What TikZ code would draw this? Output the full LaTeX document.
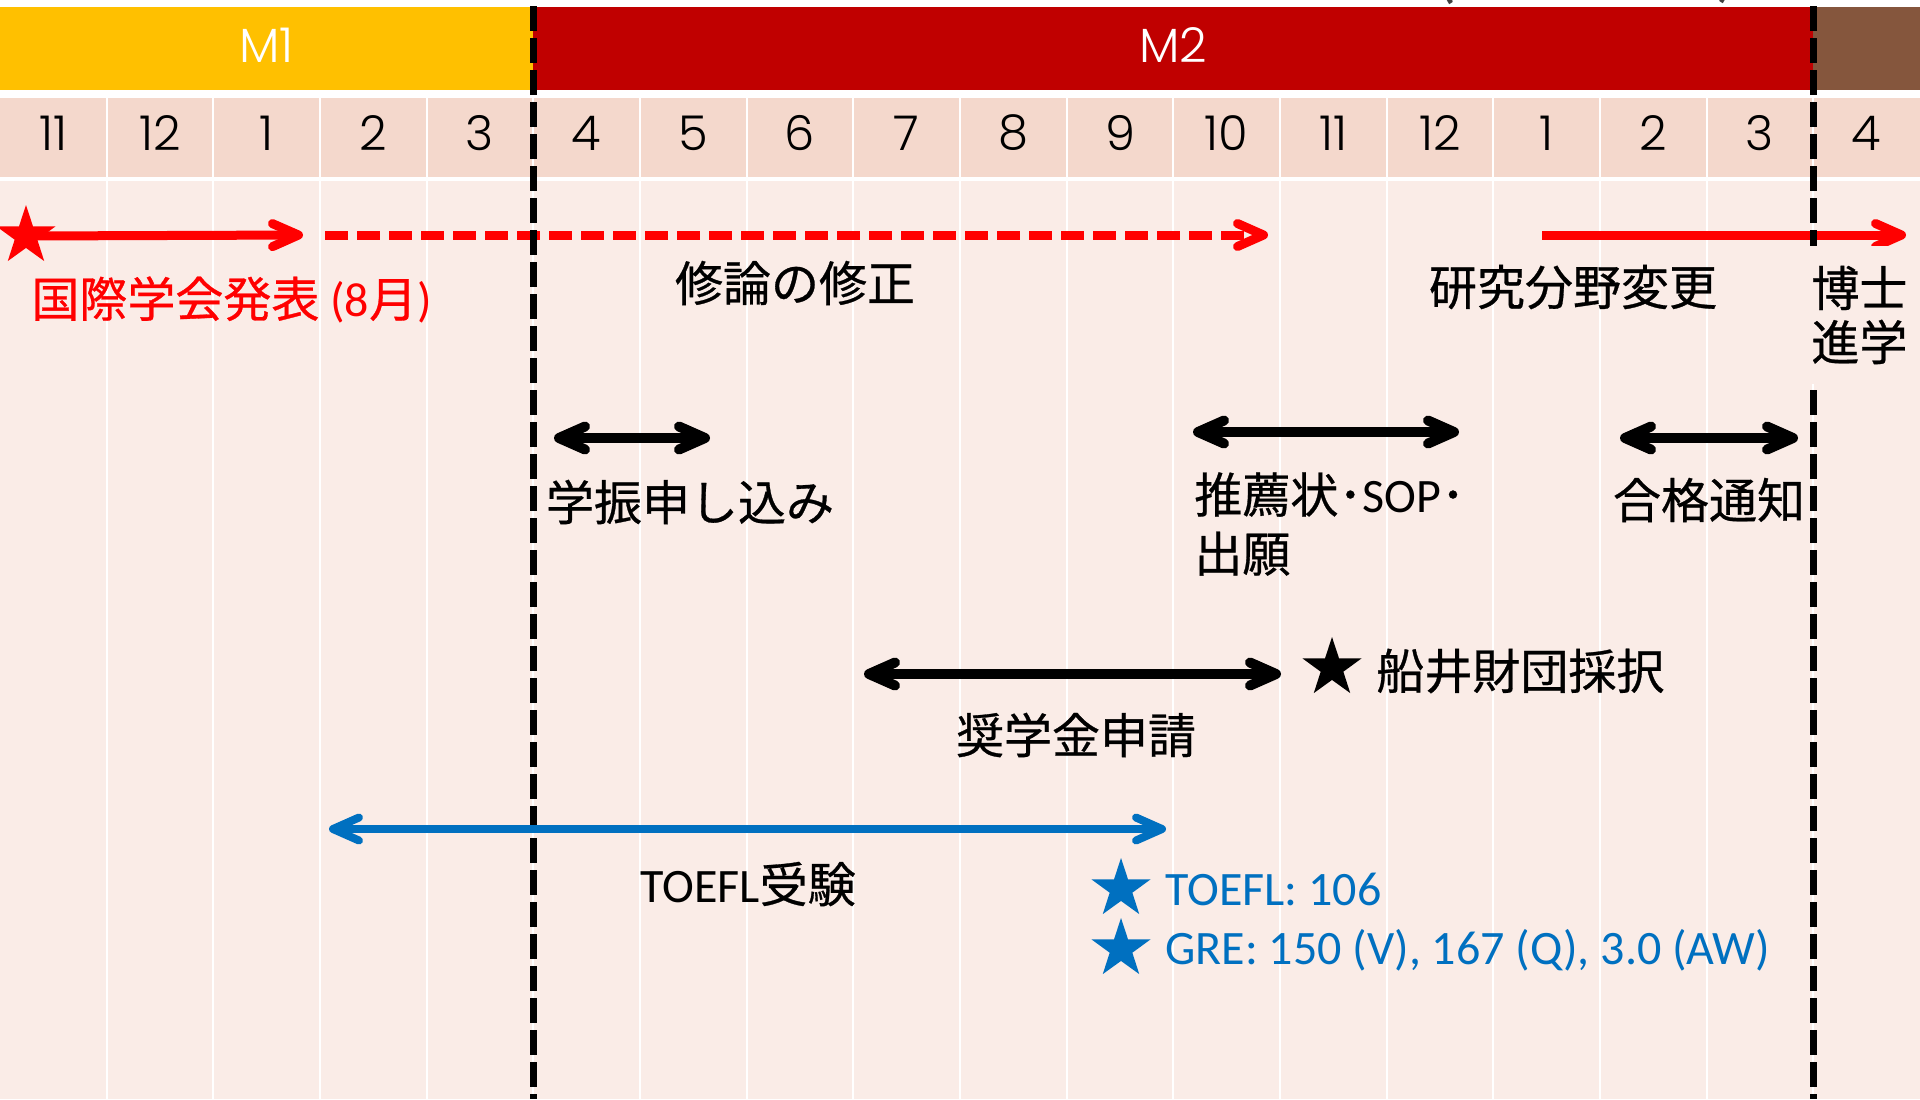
\documentclass[tikz,border=0pt]{standalone}
\usepackage{fontspec}
\setmainfont{Carlito}
\newfontfamily\jp[FakeBold=0.6]{Noto Sans CJK JP}
\newfontfamily\numf{Poppins Light}
\usetikzlibrary{arrows.meta,shapes.geometric}
\definecolor{mOne}{HTML}{FFC000}
\definecolor{mTwo}{HTML}{C00000}
\definecolor{mThree}{HTML}{85563D}
\definecolor{rowcol}{HTML}{F4D8CC}
\definecolor{bodycol}{HTML}{FAECE7}
\definecolor{blueline}{HTML}{0070C0}
\definecolor{parcol}{HTML}{404040}
\newcommand\J[1]{{\jp #1}}
\newcommand\Jdot{{\jp ･}}
\tikzset{
  lab/.style={inner sep=0pt, font=\fontsize{24}{29}\selectfont},
  monthlab/.style={inner sep=0pt, font=\fontsize{24}{29}\selectfont\numf},
  starfive/.style={star, star points=5, star point ratio=2.6, minimum size=31pt, inner sep=0pt},
  barb/.tip={Straight Barb[length=13pt,width=11.5pt,round]},
  arr/.style={line width=4.5pt, -barb},
  arrtwo/.style={line width=5pt, barb-barb},
  vdash/.style={line width=3.75pt, dash pattern=on 12.5pt off 3.5pt},
  sep/.style={white, line width=1pt},
}
\begin{document}
\begin{tikzpicture}[x=0.5pt,y=-0.5pt]
\useasboundingbox (0,0) rectangle (1920,1099);
\fill[white] (0,0) rectangle (1920,1099);
% top bars
\fill[mOne] (0,7) rectangle (533.33,90);
\fill[mTwo] (533.33,7) rectangle (1813.33,90);
\fill[mThree] (1813.33,7) rectangle (1920,90);
\node[monthlab, white] (mone) at (266.67,45) {M1};
\node[monthlab, white] (mtwo) at (1173.33,45) {M2};
% cut-off parentheses at the top edge
\node[lab, parcol, anchor=south] (paropen) at (1448,5) {\bfseries (};
\node[lab, parcol, anchor=south] (parclose) at (1725,4) {\bfseries )};
% month row and body
\fill[rowcol] (0,98) rectangle (1920,177);
\fill[bodycol] (0,181) rectangle (1920,1099);
\foreach \i in {1,...,17} \draw[sep] ({\i*106.667},98) -- ({\i*106.667},1099);
\foreach \m [count=\i from 0] in {11,12,1,2,3,4,5,6,7,8,9,10,11,12,1,2,3,4}
  \node[monthlab] (mon\i) at ({(\i+0.5)*106.667},133) {\m};
% red arrows
\node[starfive, fill=red] (rstar) at (26,236) {};
\coordinate (ronee) at (303,235);
\draw[arr, red] (rstar.center) -- (ronee);
\coordinate (rtwos) at (325,235);
\coordinate (rtwoe) at (1268,235);
\draw[arr, red, dash pattern=on 11.5pt off 4.5pt] (rtwos) -- (rtwoe);
\coordinate (rthrees) at (1542,235);
\coordinate (rthreee) at (1906,235);
\draw[arr, red] (rthrees) -- (rthreee);
% dashed vertical lines
\coordinate (dlt) at (533.33,6);
\coordinate (dlb) at (533.33,1099);
\draw[vdash] (dlt) -- (dlb);
\coordinate (drt) at (1813.33,6);
\coordinate (drb) at (1813.33,1099);
\draw[vdash] (drt) -- (drb);
% labels row 1
\node[lab, red, anchor=west] (kokusai) at (31,300) {\J{国際学会発表} (8\J{月})};
\node[lab] (shuron) at (795,283) {\J{修論の修正}};
\node[lab] (kenkyu) at (1573,287) {\J{研究分野変更}};
\node[lab, anchor=west, align=left, fill=bodycol, inner xsep=8pt, inner ysep=10pt,
      font=\fontsize{24}{27}\selectfont] (hakase) at (1795,315) {\J{博士}\\\J{進学}};
% black double arrows
\coordinate (gone) at (554,438);
\coordinate (gtwo) at (710,438);
\draw[arrtwo] (gone) -- (gtwo);
\node[lab] (gakushin) at (690,502) {\J{学振申し込み}};
\coordinate (sone) at (1193,432);
\coordinate (stwo) at (1459,432);
\draw[arrtwo] (sone) -- (stwo);
\node[lab, anchor=west, align=left, font=\fontsize{24}{29.5}\selectfont] (suisen) at (1194,524)
  {\J{推薦状}\Jdot SOP\Jdot\\\J{出願}};
\coordinate (cone) at (1620,438);
\coordinate (ctwo) at (1798,438);
\draw[arrtwo] (cone) -- (ctwo);
\node[lab] (goukaku) at (1709,500) {\J{合格通知}};
% scholarship
\coordinate (scone) at (864,674);
\coordinate (sctwo) at (1281,674);
\draw[arrtwo] (scone) -- (sctwo);
\node[lab] (shougaku) at (1076,735) {\J{奨学金申請}};
\node[starfive, fill=black] (kstar) at (1332,668) {};
\node[lab, anchor=west] (funai) at (1376,671) {\J{船井財団採択}};
% TOEFL
\coordinate (tone) at (329,829);
\coordinate (ttwo) at (1166,829);
\draw[arrtwo, blueline, line width=4pt] (tone) -- (ttwo);
\node[lab] (toefl) at (748,884) {TOEFL\J{受験}};
\node[starfive, fill=blueline] (bstarone) at (1121,889) {};
\node[lab, blueline, anchor=west] (toeflscore) at (1165,889) {TOEFL: 106};
\node[starfive, fill=blueline] (bstartwo) at (1121,949) {};
\node[lab, blueline, anchor=west] (grescore) at (1165,950) {GRE: 150 (V), 167 (Q), 3.0 (AW)};
\end{tikzpicture}
\end{document}
